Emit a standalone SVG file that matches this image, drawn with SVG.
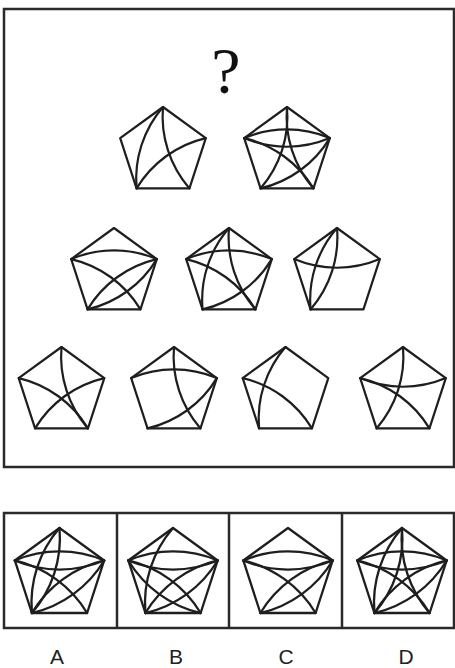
<svg xmlns="http://www.w3.org/2000/svg" xmlns:xlink="http://www.w3.org/1999/xlink" width="455" height="668" viewBox="0 0 455 668">
<style>
.frame{fill:none;stroke:#2a2a2a;stroke-width:2.5}
.fig{fill:none;stroke:#1e1e1e;stroke-width:2.2;stroke-linejoin:round;stroke-linecap:round}
.lbl{font-family:"Liberation Sans",Arial,sans-serif;font-size:21px;fill:#222;text-anchor:middle}
.q{font-family:"Liberation Serif","Times New Roman",serif;font-size:66px;fill:#111;text-anchor:middle}
</style>
<defs>
<polygon id="pent" points="0,-45 42.80,-13.91 26.45,36.41 -26.45,36.41 -42.80,-13.91"/>
<path id="lrU" d="M-42.80,-13.91 A110,110 0 0 1 42.80,-13.91"/>
<path id="lrD" d="M-42.80,-13.91 A110,110 0 0 0 42.80,-13.91"/>
<path id="tblW" d="M0,-45 A110,110 0 0 0 -26.45,36.41"/>
<path id="tblE" d="M0,-45 A110,110 0 0 1 -26.45,36.41"/>
<path id="tbrW" d="M0,-45 A110,110 0 0 0 26.45,36.41"/>
<path id="rblNW" d="M42.80,-13.91 A110,110 0 0 0 -26.45,36.41"/>
<path id="rblSE" d="M42.80,-13.91 A110,110 0 0 1 -26.45,36.41"/>
<path id="lbrNE" d="M-42.80,-13.91 A110,110 0 0 1 26.45,36.41"/>
<path id="lbrSW" d="M-42.80,-13.91 A110,110 0 0 0 26.45,36.41"/>
</defs>
<rect class="frame" x="4" y="9" width="450" height="458"/>
<text class="q" x="226" y="93">?</text>
<g class="fig">
<g id="p1" transform="translate(163,152)"><use href="#pent"/><use href="#tblW"/><use href="#tbrW"/><use href="#rblNW"/></g>
<g id="p2" transform="translate(287,152)"><use href="#pent"/><use href="#lrU"/><use href="#lrD"/><use href="#tblE"/><use href="#tbrW"/><use href="#rblSE"/><use href="#lbrNE"/></g>
<g id="p3" transform="translate(114,273)"><use href="#pent"/><use href="#lrU"/><use href="#lbrNE"/><use href="#rblNW"/><use href="#rblSE"/></g>
<g id="p4" transform="translate(229,273)"><use href="#pent"/><use href="#lrU"/><use href="#tbrW"/><use href="#rblSE"/><use href="#tblW"/><use href="#lbrNE"/></g>
<g id="p5" transform="translate(337,273)"><use href="#pent"/><use href="#lrD"/><use href="#tblW"/><use href="#tblE"/></g>
<g id="p6" transform="translate(61.5,392)"><use href="#pent"/><use href="#lbrNE"/><use href="#rblNW"/><use href="#tbrW"/></g>
<g id="p7" transform="translate(174,392)"><use href="#pent"/><use href="#lrU"/><use href="#tbrW"/><use href="#rblSE"/></g>
<g id="p8" transform="translate(285.5,392)"><use href="#pent"/><use href="#tblW"/><use href="#lbrNE"/></g>
<g id="p9" transform="translate(403,392)"><use href="#pent"/><use href="#lrD"/><use href="#tblE"/><use href="#lbrNE"/></g>
</g>
<g id="options">
<rect class="frame" x="4" y="513" width="450" height="115"/>
<line class="frame" x1="117" y1="513" x2="117" y2="628"/>
<line class="frame" x1="229" y1="513" x2="229" y2="628"/>
<line class="frame" x1="342" y1="513" x2="342" y2="628"/>
<g class="fig">
<g id="optA" transform="translate(59.5,575) scale(1.044)"><use href="#pent"/><use href="#lrU"/><use href="#lrD"/><use href="#tblW"/><use href="#tblE"/><use href="#rblNW"/><use href="#rblSE"/><use href="#lbrNE"/></g>
<g id="optB" transform="translate(173,575) scale(1.044)"><use href="#pent"/><use href="#lrU"/><use href="#lrD"/><use href="#tblW"/><use href="#lbrNE"/><use href="#lbrSW"/><use href="#rblNW"/><use href="#rblSE"/></g>
<g id="optC" transform="translate(288,575) scale(1.044)"><use href="#pent"/><use href="#lrU"/><use href="#lrD"/><use href="#lbrNE"/><use href="#rblNW"/><use href="#rblSE"/></g>
<g id="optD" transform="translate(402,575) scale(1.044)"><use href="#pent"/><use href="#lrU"/><use href="#lrD"/><use href="#tblW"/><use href="#tblE"/><use href="#tbrW"/><use href="#lbrNE"/><use href="#rblSE"/><use href="#rblNW"/></g>
</g>
<text class="lbl" x="57" y="664">A</text>
<text class="lbl" x="176" y="664">B</text>
<text class="lbl" x="286" y="664">C</text>
<text class="lbl" x="406" y="664">D</text>
</g>
</svg>
